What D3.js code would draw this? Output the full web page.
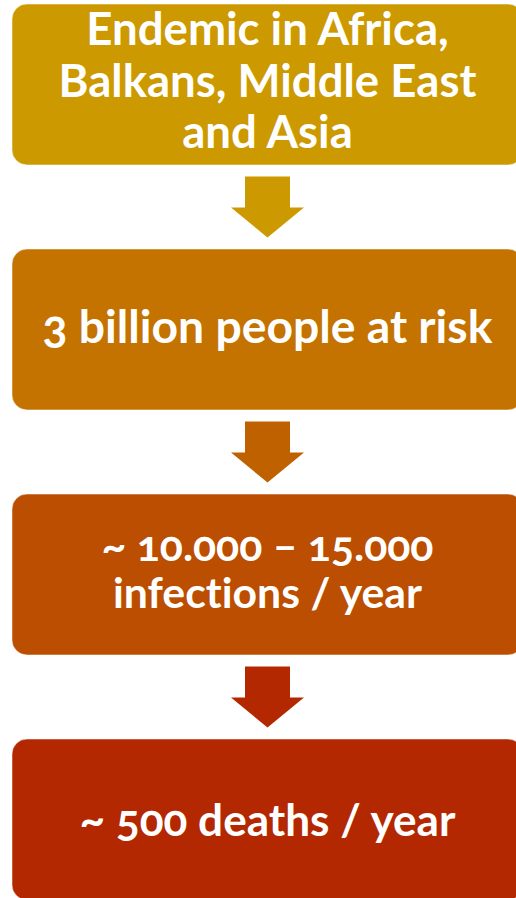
<!DOCTYPE html>
<html>
<head>
<meta charset="utf-8">
<script src="https://cdn.jsdelivr.net/npm/d3@7"></script>
<style>
  html, body { margin: 0; padding: 0; background: #ffffff; }
  svg { display: block; }
  .step-label {
    font-family: Lato, "Open Sans", "Noto Sans", sans-serif;
    font-weight: 700;
    fill: #ffffff;
    font-variant-numeric: oldstyle-nums;
    font-variant-ligatures: none;
    font-feature-settings: "onum" 1, "liga" 0, "clig" 0, "dlig" 0;
  }
</style>
</head>
<body>
<svg id="chart" width="516" height="898"></svg>
<script>
// Process steps, top to bottom, each split into its text lines
const stepIds = ["endemic", "risk", "infections", "deaths"];
const stepLines = [
  ["Endemic in Africa,", "Balkans, Middle East", "and Asia"],
  ["3 billion people at risk"],
  ["~ 10.000 – 15.000", "infections / year"],
  ["~ 500 deaths / year"]
];

// Typography per step: target width of the widest line, line height, baseline shift
const textWidths = [418, 450, 332, 376];
const lineHeights = [51.5, 0, 47, 0];
const baselineShifts = [12.5, 13.5, 9.5, 16.5];

const W = 516, H = 898;
const boxLeft = 12, boxRight = 523, boxRadius = 15;
const startColor = "#CC9900", endColor = "#B32800";
const colorAt = d3.interpolateRgb(startColor, endColor);

const svg = d3.select("#chart");

// Vertical placement of the boxes
const y = d3.scaleBand()
  .domain(stepIds)
  .range([4, 900])
  .paddingInner(0.343)
  .paddingOuter(0);

const cx = (boxLeft + boxRight) / 2;

// Boxes
svg.append("g").selectAll("rect")
  .data(stepIds)
  .join("rect")
  .attr("x", boxLeft)
  .attr("y", d => y(d))
  .attr("width", boxRight - boxLeft)
  .attr("height", y.bandwidth())
  .attr("rx", boxRadius)
  .attr("ry", boxRadius)
  .attr("fill", (d, i) => colorAt(i / (stepIds.length - 1)))
  .attr("stroke", "rgba(255,255,255,0.5)")
  .attr("stroke-width", 1);

// Down arrows between consecutive boxes
const shaftW = 45, headW = 73, shaftH = 31, headH = 30;
const arrowData = stepIds.slice(0, -1).map((d, i) => ({
  mid: (y(d) + y.bandwidth() + y(stepIds[i + 1])) / 2,
  t: i / (stepIds.length - 2)
}));

svg.append("g").selectAll("path")
  .data(arrowData)
  .join("path")
  .attr("d", a => {
    const top = a.mid - (shaftH + headH) / 2;
    const p = d3.path();
    p.moveTo(cx - shaftW / 2, top);
    p.lineTo(cx + shaftW / 2, top);
    p.lineTo(cx + shaftW / 2, top + shaftH);
    p.lineTo(cx + headW / 2, top + shaftH);
    p.lineTo(cx, top + shaftH + headH);
    p.lineTo(cx - headW / 2, top + shaftH);
    p.lineTo(cx - shaftW / 2, top + shaftH);
    p.closePath();
    return p.toString();
  })
  .attr("fill", a => colorAt(a.t));

// Labels: size each block so its widest line fills the target width
const labels = svg.append("g").selectAll("text")
  .data(stepIds)
  .join("text")
  .attr("class", "step-label")
  .attr("text-anchor", "middle");

labels.each(function(d, i) {
  const text = d3.select(this);
  const lines = stepLines[i];
  text.style("font-size", "40px");
  const spans = text.selectAll("tspan")
    .data(lines)
    .join("tspan")
    .attr("x", cx)
    .text(l => l);
  let widest = 0;
  spans.each(function() { widest = Math.max(widest, this.getComputedTextLength()); });
  const fs = 40 * textWidths[i] / widest;
  text.style("font-size", fs + "px");
  const center = y(d) + y.bandwidth() / 2;
  spans.attr("y", (l, j) => center + (j - (lines.length - 1) / 2) * lineHeights[i] + baselineShifts[i]);
});
</script>
</body>
</html>
